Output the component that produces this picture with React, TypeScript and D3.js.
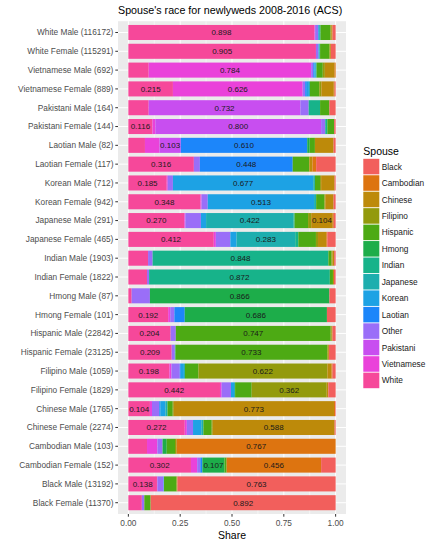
import React from "react";
import * as d3 from "d3";

// rows, top to bottom
const rowLabels = [
  "White Male (116172)", "White Female (115291)",
  "Vietnamese Male (692)", "Vietnamese Female (889)",
  "Pakistani Male (164)", "Pakistani Female (144)",
  "Laotian Male (82)", "Laotian Female (117)",
  "Korean Male (712)", "Korean Female (942)",
  "Japanese Male (291)", "Japanese Female (465)",
  "Indian Male (1903)", "Indian Female (1822)",
  "Hmong Male (87)", "Hmong Female (101)",
  "Hispanic Male (22842)", "Hispanic Female (23125)",
  "Filipino Male (1059)", "Filipino Female (1829)",
  "Chinese Male (1765)", "Chinese Female (2274)",
  "Cambodian Male (103)", "Cambodian Female (152)",
  "Black Male (13192)", "Black Female (11370)",
];

// spouse shares, one value per row
const white = [.898, .905, .098, .215, .098, .116, .080, .316, .185, .348, .270, .412, .095, .090, .016, .192, .204, .209, .198, .442, .104, .272, .090, .302, .138, .065];
const vietnamese = [.002, 0, .784, .626, 0, .014, .070, 0, .005, .005, .005, .010, 0, 0, 0, .010, 0, 0, .010, .008, .010, .010, .050, .030, .002, 0];
const pakistani = [.001, 0, 0, 0, .732, .800, .103, 0, 0, 0, 0, 0, 0, 0, 0, 0, 0, 0, 0, 0, 0, 0, 0, 0, 0, 0];
const other = [.015, .012, .010, .012, .040, .020, 0, .029, .025, .030, .075, .070, .022, .010, .088, .020, .025, .015, .040, .045, .035, .030, .025, .015, .030, .012];
const laotian = [0, 0, .006, .008, 0, 0, .610, .448, 0, 0, 0, 0, 0, 0, 0, .050, 0, 0, .005, 0, .005, 0, 0, .010, 0, 0];
const korean = [.004, .003, .006, .010, 0, 0, 0, 0, .677, .513, .025, .030, 0, 0, 0, 0, 0, .003, .015, .015, .025, .040, 0, 0, .002, 0];
const japanese = [.004, .003, .004, .005, 0, 0, 0, 0, .008, .010, .422, .283, 0, 0, 0, 0, 0, 0, .005, .005, .010, .010, 0, 0, 0, 0];
const indian = [.003, .002, 0, 0, .055, .010, 0, 0, 0, 0, .005, .015, .848, .872, 0, 0, 0, 0, 0, 0, 0, 0, 0, 0, 0, 0];
const hmong = [0, 0, 0, 0, 0, 0, .012, 0, 0, 0, 0, 0, 0, 0, .866, .686, 0, 0, 0, 0, 0, 0, .020, .107, 0, 0];
const hispanic = [.048, .045, .030, .045, .045, .033, .025, .080, .025, .040, .065, .085, .015, .015, 0, 0, .747, .733, .065, .080, .025, .040, .040, .010, .060, .030];
const filipino = [.004, .003, .010, .010, 0, 0, 0, 0, .005, .004, .015, .010, .005, 0, 0, 0, .005, .004, .622, .362, .005, .005, .008, 0, .003, .001];
const chinese = [.006, .004, .047, .060, 0, 0, .090, .015, .065, .040, .104, .040, .008, .005, 0, 0, .004, .004, .020, .008, .773, .588, 0, 0, .002, 0];
const cambodian = [0, 0, .005, .004, 0, 0, 0, .018, 0, 0, .005, .005, 0, 0, 0, 0, 0, 0, .005, 0, .005, 0, .767, .456, 0, 0];
const black = [.015, .023, 0, .005, .030, .007, .010, .094, .005, .010, .009, .040, .007, .008, .030, .042, .015, .032, .015, .035, .003, .005, 0, .070, .763, .892];

const spouseKeys = [
  "Black", "Cambodian", "Chinese", "Filipino", "Hispanic", "Hmong", "Indian",
  "Japanese", "Korean", "Laotian", "Other", "Pakistani", "Vietnamese", "White",
];
const spouseColors = [
  "#F25F5C", "#DD7410", "#BD8A0A", "#939A0C", "#4DAA14", "#1DAD4A", "#17B38A",
  "#1DAEAE", "#1DA2E4", "#1C86FA", "#9A6EF8", "#C84EF0", "#EA42DA", "#F6489A",
];
const xTicks = [0, 0.25, 0.5, 0.75, 1];

const seriesByKey: Record<string, number[]> = {
  Black: black, Cambodian: cambodian, Chinese: chinese, Filipino: filipino,
  Hispanic: hispanic, Hmong: hmong, Indian: indian, Japanese: japanese,
  Korean: korean, Laotian: laotian, Other: other, Pakistani: pakistani,
  Vietnamese: vietnamese, White: white,
};

const W = 435;
const H = 542;
const panel = { left: 118, right: 346, top: 21.2, bottom: 514 };
const font = "'Liberation Sans', Arial, sans-serif";

export default function App() {
  const table = rowLabels.map((label, i) => {
    const row: any = { label };
    spouseKeys.forEach((k) => (row[k] = seriesByKey[k][i]));
    return row;
  });

  // White sits at the left end, Black at the right end
  const stackOrder = [...spouseKeys].reverse();
  const layers = d3.stack<any>().keys(stackOrder)(table);
  const color = d3.scaleOrdinal<string, string>().domain(spouseKeys).range(spouseColors);

  const x = d3.scaleLinear().domain([-0.05, 1.05]).range([panel.left, panel.right]);
  const step = (panel.bottom - panel.top) / (rowLabels.length - 1 + 1.2);
  const y = d3
    .scalePoint<string>()
    .domain(rowLabels)
    .range([panel.top + 0.6 * step, panel.bottom - 0.6 * step]);
  const barH = step * 0.8;
  const fmt = d3.format(".3f");
  const minorTicks = [0.125, 0.375, 0.625, 0.875];

  const legendX = 363.3;
  const legendTop = 158.8;
  const keyStep = 16.45;

  return (
    <svg
      width={W}
      height={H}
      style={{ position: "absolute", left: 0, top: 0, background: "#fff" }}
      fontFamily={font}
    >
      <text x={panel.left} y={14.3} fontSize={10.7} fill="#000">
        Spouse's race for newlyweds 2008-2016 (ACS)
      </text>

      {/* panel */}
      <rect
        x={panel.left}
        y={panel.top}
        width={panel.right - panel.left}
        height={panel.bottom - panel.top}
        fill="#EBEBEB"
      />
      {minorTicks.map((t) => (
        <line key={"mn" + t} x1={x(t)} x2={x(t)} y1={panel.top} y2={panel.bottom} stroke="#fff" strokeWidth={0.5} />
      ))}
      {xTicks.map((t) => (
        <line key={"mj" + t} x1={x(t)} x2={x(t)} y1={panel.top} y2={panel.bottom} stroke="#fff" strokeWidth={1} />
      ))}
      {rowLabels.map((r) => (
        <line key={"h" + r} x1={panel.left} x2={panel.right} y1={y(r)} y2={y(r)} stroke="#fff" strokeWidth={1} />
      ))}

      {/* bars */}
      {layers.map((layer) => (
        <g key={layer.key} fill={color(layer.key)}>
          {layer.map((d, i) =>
            d[1] - d[0] > 0 ? (
              <rect
                key={i}
                x={x(d[0])}
                y={y(d.data.label)! - barH / 2}
                width={x(d[1]) - x(d[0])}
                height={barH}
              />
            ) : null
          )}
        </g>
      ))}

      {/* value labels for large segments */}
      {layers.map((layer) =>
        layer.map((d, i) => {
          const v = d[1] - d[0];
          if (v < 0.1) return null;
          return (
            <text
              key={layer.key + "t" + i}
              x={x((d[0] + d[1]) / 2)}
              y={y(d.data.label)! + 2.9}
              textAnchor="middle"
              fontSize={8}
              fill="#1a1a1a"
            >
              {fmt(v)}
            </text>
          );
        })
      )}

      {/* y axis */}
      {rowLabels.map((r) => (
        <g key={"yl" + r}>
          <line x1={panel.left - 2.7} x2={panel.left} y1={y(r)} y2={y(r)} stroke="#333" strokeWidth={1} />
          <text x={panel.left - 4.6} y={y(r)! + 2.9} textAnchor="end" fontSize={8.3} fill="#4D4D4D">
            {r}
          </text>
        </g>
      ))}

      {/* x axis */}
      {xTicks.map((t) => (
        <g key={"xl" + t}>
          <line x1={x(t)} x2={x(t)} y1={panel.bottom} y2={panel.bottom + 2.7} stroke="#333" strokeWidth={1} />
          <text x={x(t)} y={525.5} textAnchor="middle" fontSize={8.3} fill="#4D4D4D">
            {d3.format(".2f")(t)}
          </text>
        </g>
      ))}
      <text x={(panel.left + panel.right) / 2} y={538.8} textAnchor="middle" fontSize={10.5} fill="#000">
        Share
      </text>

      {/* legend */}
      <text x={legendX} y={155} fontSize={10.5} fill="#000">
        Spouse
      </text>
      {spouseKeys.map((k, i) => (
        <g key={"lg" + k} transform={`translate(${legendX},${legendTop + i * keyStep})`}>
          <rect width={16} height={keyStep - 0.9} fill={color(k)} />
          <text x={18.4} y={keyStep / 2 + 2.6} fontSize={8.3} fill="#1a1a1a">
            {k}
          </text>
        </g>
      ))}
    </svg>
  );
}
